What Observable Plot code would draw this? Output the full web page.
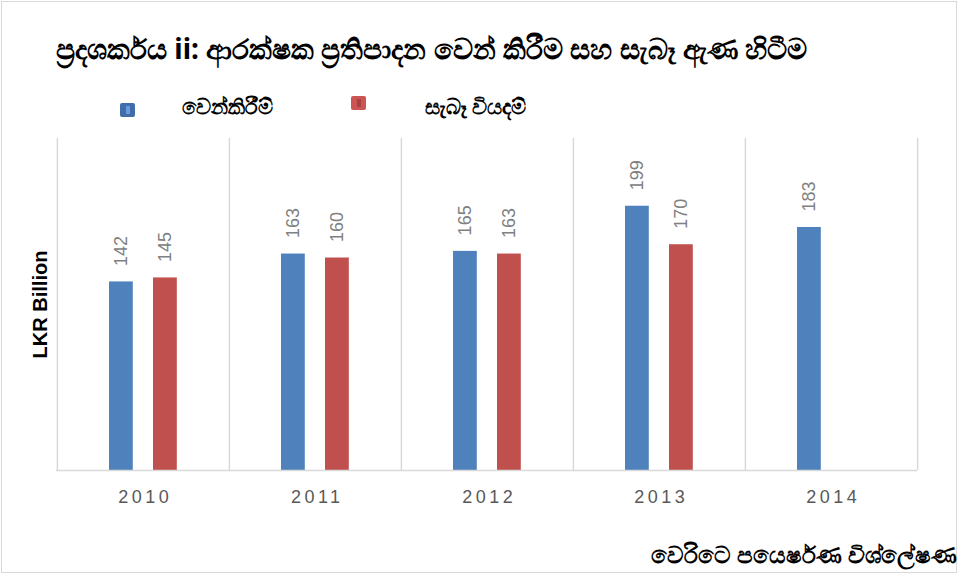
<!DOCTYPE html>
<html>
<head>
<meta charset="utf-8">
<script src="https://cdn.jsdelivr.net/npm/d3@7"></script>
<script src="https://cdn.jsdelivr.net/npm/@observablehq/plot@0.6"></script>
<style>
  html, body { margin: 0; padding: 0; background: #fff; }
  #wrap { position: relative; width: 962px; height: 577px; overflow: hidden; font-family: "Noto Sans", "Liberation Sans", sans-serif; }
  #box { position: absolute; left: 1px; top: 1px; width: 956px; height: 572px; border: 1.5px solid #d9d9d9; box-sizing: border-box; }
  .t { position: absolute; white-space: nowrap; color: #000; }
  #title { left: 56px; top: 29px; font-size: 28px; font-weight: bold; }
  #foot { right: 5px; top: 538px; font-size: 23px; font-weight: bold; }
  .lg { top: 92px; font-size: 21px; font-weight: bold; }
  .sw { position: absolute; width: 15px; height: 14px; border-radius: 2px; }
  .sw i { position: absolute; left: 6px; top: 3px; width: 4px; height: 8px; }
  #chart { position: absolute; left: 0; top: 0; }
</style>
</head>
<body>
<div id="wrap">
  <div id="box"></div>
  <div id="chart"></div>
  <div id="title" class="t"></div>
  <div id="leg"></div>
  <div id="foot" class="t"></div>
</div>
<script>
const years = ["2010", "2011", "2012", "2013", "2014"];
const allocation = [142, 163, 165, 199, 183];
const actual = [145, 160, 163, 170, null];
const seriesNames = ["වෙන්කිරීම්", "සැබෑ වියදම්"];
const seriesColors = ["#4f81bd", "#c0504d"];
const titleText = "ප්‍රදශර්කය ii: ආරක්ෂක ප්‍රතිපාදන වෙන් කිරීම සහ සැබෑ  ඇණ හිටීම";
const yLabel = "LKR Billion";
const footText = "වෙරිටෙ පයෙර්ෂණ විශ්ලේෂණ";

document.getElementById("title").textContent = titleText;
document.getElementById("foot").textContent = footText;

// legend
const leg = document.getElementById("leg");
const legPos = [
  {sx: 120, sy: 103, tx: 182, inner: "#6a9be0", sw: "#3f6ea8"},
  {sx: 351, sy: 96, tx: 425, inner: "#a84242", sw: "#cc5553"}
];
seriesNames.forEach((n, i) => {
  const s = document.createElement("div");
  s.className = "sw";
  s.style.left = legPos[i].sx + "px";
  s.style.top = legPos[i].sy + "px";
  s.style.background = legPos[i].sw;
  const inner = document.createElement("i");
  inner.style.background = legPos[i].inner;
  s.appendChild(inner);
  leg.appendChild(s);
  const t = document.createElement("div");
  t.className = "t lg";
  t.style.left = legPos[i].tx + "px";
  t.textContent = n;
  leg.appendChild(t);
});

const alloc = years.map((y, i) => ({year: y, value: allocation[i]}));
const act = years.map((y, i) => ({year: y, value: actual[i]})).filter(d => d.value != null);

const bw = 861 / 5;
const chart = Plot.plot({
  width: 962,
  height: 577,
  marginLeft: 56,
  marginRight: 45,
  marginTop: 138,
  marginBottom: 107,
  style: {background: "transparent", overflow: "visible"},
  x: {domain: years, padding: 0, axis: null},
  y: {domain: [0, 250], axis: null},
  marks: [
    Plot.ruleX(years, {x: d => d, dx: -bw / 2, stroke: "#d9d9d9", strokeWidth: 1.5}),
    Plot.ruleX([years[years.length - 1]], {x: d => d, dx: bw / 2, stroke: "#d9d9d9", strokeWidth: 1.5}),
    Plot.barY(alloc, {x: "year", y: "value", fill: seriesColors[0], insetLeft: 52, insetRight: bw - 52 - 24}),
    Plot.barY(act, {x: "year", y: "value", fill: seriesColors[1], insetLeft: 96, insetRight: bw - 96 - 24}),
    Plot.ruleY([0], {stroke: "#d9d9d9", strokeWidth: 1.5}),
    Plot.text(alloc, {x: "year", y: "value", text: d => String(d.value), rotate: -90, textAnchor: "start", dx: -22, dy: -16, fill: "#808080", fontSize: 18, fontFamily: "Liberation Sans, sans-serif"}),
    Plot.text(act, {x: "year", y: "value", text: d => String(d.value), rotate: -90, textAnchor: "start", dx: 22, dy: -16, fill: "#808080", fontSize: 18, fontFamily: "Liberation Sans, sans-serif"}),
    Plot.text(years, {x: d => d, frameAnchor: "bottom", dy: 32, dx: 1.75, text: d => d, fill: "#595959", fontSize: 18, fontFamily: "Liberation Sans, sans-serif"}),
    Plot.text([yLabel], {frameAnchor: "left", dx: -16, rotate: -90, textAnchor: "middle", text: d => d, fill: "#000", fontSize: 20, fontWeight: "bold", fontFamily: "Liberation Sans, sans-serif"})
  ]
});
chart.querySelectorAll("text").forEach(t => {
  if (years.includes(t.textContent)) t.style.letterSpacing = "3.5px";
});
document.getElementById("chart").appendChild(chart);
</script>
</body>
</html>
